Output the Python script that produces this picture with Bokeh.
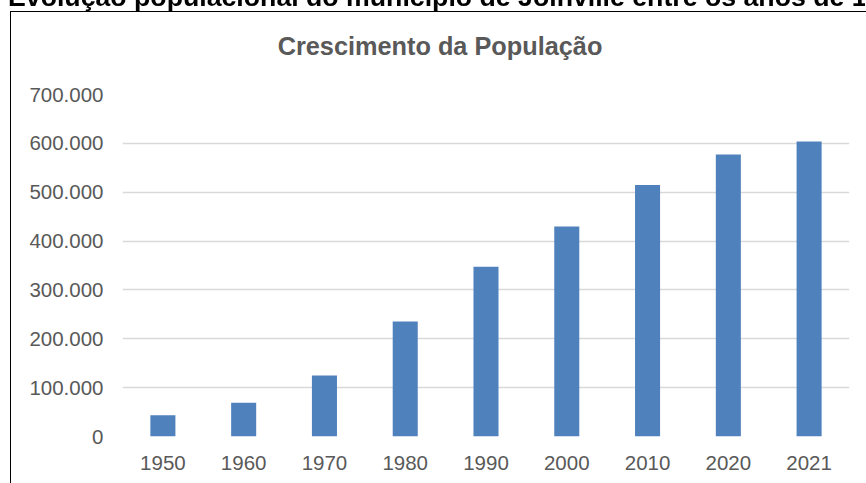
from bokeh.plotting import figure
from bokeh.models import Div, FixedTicker, Range1d, ColumnDataSource
from bokeh.embed import file_html
from bokeh.resources import INLINE

# ---- data ----
years = ["1950", "1960", "1970", "1980", "1990", "2000", "2010", "2020", "2021"]
population = [43300, 69000, 125000, 235500, 347300, 429800, 515000, 577000, 604000]
y_ticks = [0, 100000, 200000, 300000, 400000, 500000, 600000, 700000]
y_tick_labels = ["0", "100.000", "200.000", "300.000", "400.000", "500.000", "600.000", "700.000"]
page_title = "Evolução populacional do município de Joinville entre os anos de 1950 e 2021"
chart_title = "Crescimento da População"

GRAY = "#595959"
FONT = "Liberation Sans"

def fixed(top, left):
    return {"position": "fixed", "top": f"{top}px", "left": f"{left}px"}

# document frame around the chart (extends past the window edges)
box = Div(text="", width=900, height=520, margin=0,
          styles={**fixed(11, 10), "border": "1px solid #000", "box-sizing": "border-box",
                  "background": "white"})

src = ColumnDataSource(dict(year=years, pop=population))

p = figure(
    x_range=years, y_range=Range1d(0, 700000),
    frame_width=727, frame_height=342,
    min_border_left=111, min_border_right=17, min_border_top=82, min_border_bottom=47,
    output_backend="svg", toolbar_location=None, margin=0,
    styles=fixed(12, 11),
)
p.vbar(x="year", top="pop", width=0.31, source=src, color="#4f81bd", line_color=None)

p.outline_line_color = None
p.background_fill_color = "white"
p.border_fill_color = "white"

p.xgrid.grid_line_color = None
p.ygrid.grid_line_color = "#d9d9d9"
p.ygrid.grid_line_width = 1.3

p.yaxis.ticker = FixedTicker(ticks=y_ticks)
p.yaxis.major_label_overrides = dict(zip(y_ticks, y_tick_labels))
for ax in (p.xaxis[0], p.yaxis[0]):
    ax.axis_line_color = None
    ax.major_tick_line_color = None
    ax.minor_tick_line_color = None
    ax.major_tick_out = 0
    ax.major_tick_in = 0
    ax.major_label_text_font = FONT
    ax.major_label_text_font_size = "20.5px"
    ax.major_label_text_color = GRAY
p.yaxis.major_label_standoff = 19
p.xaxis.major_label_standoff = 19
p.x_range.range_padding = 0

ctitle = Div(
    text=(f'<div style="font-family:\'{FONT}\',Arial,sans-serif;font-weight:bold;'
          f'font-size:25.3px;line-height:30px;white-space:nowrap;color:{GRAY};'
          f'text-align:center;width:400px;">{chart_title}</div>'),
    width=400, height=30, margin=0, styles=fixed(31, 240),
)

ptitle = Div(
    text=(f'<div style="font-family:\'{FONT}\',Arial,sans-serif;font-weight:bold;'
          f'font-size:26.7px;line-height:28px;white-space:nowrap;color:#000;">{page_title}</div>'),
    width=857, height=28, margin=0,
    styles={**fixed(-17, 8), "overflow": "hidden"},
)

open("out.html", "w").write(file_html([box, p, ctitle, ptitle], INLINE))
